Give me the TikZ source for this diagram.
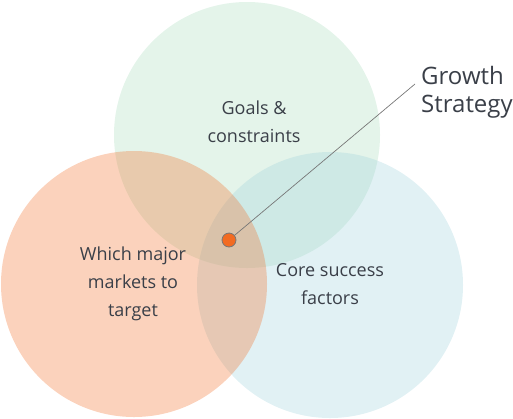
\documentclass[tikz,border=0pt]{standalone}
\usepackage{fontspec}
\setmainfont{Open Sans}
\definecolor{gbase}{HTML}{A5DAB9}
\definecolor{bbase}{HTML}{9BD0DA}
\definecolor{obase}{HTML}{F26B22}
\definecolor{txt}{HTML}{3A3F48}
\definecolor{linec}{HTML}{777777}
\begin{document}
\begin{tikzpicture}[x=1pt,y=-1pt,
  circ/.style={fill opacity=0.3, draw=none},
  lbl/.style={text=txt, font=\fontsize{18}{28}\selectfont, align=center},
  big/.style={text=txt, font=\fontsize{24}{28}\selectfont, align=left, anchor=west, inner sep=0pt}]
\useasboundingbox (0,0) rectangle (513,418);
\fill[circ, gbase] (247,135) circle (133);
\fill[circ, bbase] (330,285) circle (133);
\fill[circ, obase] (134,284) circle (133);
\node[lbl] (goals) at (254,122) {Goals \&\\constraints};
\node[lbl] (markets) at (133,284) {Which major\\markets to\\target};
\node[lbl] (core) at (330,284) {Core success\\factors};
\node[big] (growth) at (421,92) {Growth\\Strategy};
\coordinate (tip) at (415,84);
\node[circle, fill=obase, draw=linec, line width=0.8pt, minimum size=14pt, inner sep=0pt] (dot) at (229,240) {};
\draw[linec, line width=0.7pt] (dot) -- (tip);
\end{tikzpicture}
\end{document}
